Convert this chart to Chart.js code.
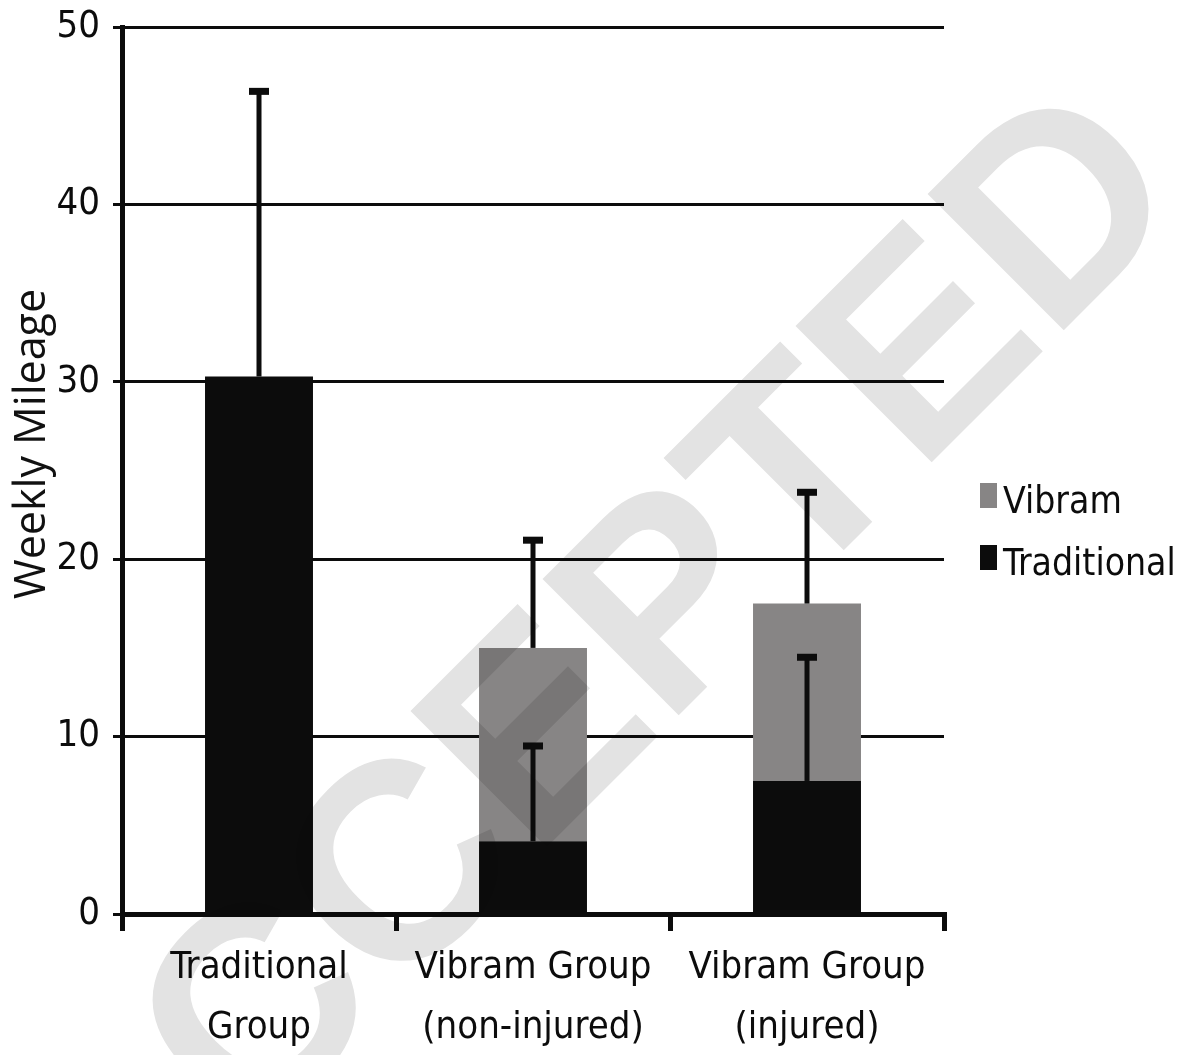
<!DOCTYPE html>
<html>
<head>
<title>Weekly Mileage</title>
<script src="https://cdn.jsdelivr.net/npm/chart.js"></script>
<style>
  html, body { margin: 0; padding: 0; background: #fff; }
  .chart-container { position: relative; width: 1190px; height: 1055px; }
</style>
</head>
<body>
<div class="chart-container"><canvas id="mileageChart"></canvas></div>
<script>
// data
const groups = [['Traditional', 'Group'], ['Vibram Group', '(non-injured)'], ['Vibram Group', '(injured)']];
const traditionalMiles = [30.3, 4.1, 7.5];
const traditionalSD = [16.1, 5.4, 7.0];
const vibramMiles = [null, 10.9, 10.0];
const vibramSD = [null, 6.1, 6.3];
const yMin = 0, yMax = 50, yStep = 10;

const narrowFont = "'Liberation Sans Narrow', 'DejaVu Sans Condensed', sans-serif";
const BLACK = '#0c0c0c';
const GREY = '#878585';

// error bars on top of each stacked segment
const errorBars = {
    id: 'errorBars',
    afterDatasetsDraw(chart) {
        const ctx = chart.ctx;
        const y = chart.scales.y;
        const sds = [traditionalSD, vibramSD];
        ctx.save();
        ctx.fillStyle = BLACK;
        sds.forEach((sd, di) => {
            chart.getDatasetMeta(di).data.forEach((bar, i) => {
                if (sd[i] == null) return;
                let total = traditionalMiles[i];
                if (di === 1) total += vibramMiles[i];
                const base = y.getPixelForValue(total);
                const end = y.getPixelForValue(total + sd[i]);
                ctx.fillRect(bar.x - 2.5, end, 5, base - end);
                ctx.fillRect(bar.x - 10, end - 3, 20, 7);
            });
        });
        ctx.restore();
    }
};

// legend on the right, Vibram above Traditional
const sideLegend = {
    id: 'sideLegend',
    afterDraw(chart) {
        const ctx = chart.ctx;
        const items = [['Vibram', GREY, 483], ['Traditional', BLACK, 545]];
        ctx.save();
        ctx.font = '37px ' + narrowFont;
        ctx.textBaseline = 'alphabetic';
        ctx.textAlign = 'left';
        items.forEach(([label, color, top]) => {
            ctx.fillStyle = color;
            ctx.fillRect(980, top, 17, 25);
            ctx.fillStyle = BLACK;
            ctx.fillText(label, 1003, top + 30);
        });
        ctx.restore();
    }
};

// y axis title
const yTitle = {
    id: 'yTitle',
    afterDraw(chart) {
        const ctx = chart.ctx;
        ctx.save();
        ctx.translate(33, 444);
        ctx.rotate(-Math.PI / 2);
        ctx.font = "43px 'Open Sans', sans-serif";
        ctx.fillStyle = '#111';
        ctx.textAlign = 'center';
        ctx.textBaseline = 'middle';
        ctx.fillText('Weekly Mileage', 0, 0);
        ctx.restore();
    }
};

// diagonal ACCEPTED stamp over the figure
const watermark = {
    id: 'watermark',
    afterDraw(chart) {
        const ctx = chart.ctx;
        ctx.save();
        ctx.globalCompositeOperation = 'multiply';
        ctx.fillStyle = '#e3e3e3';
        ctx.font = "bold 280px 'Liberation Sans', Arial, sans-serif";
        ctx.translate(649, 745);
        ctx.rotate(-Math.PI / 4);
        ctx.textAlign = 'center';
        ctx.textBaseline = 'alphabetic';
        ctx.fillText('ACCEPTED', 0, 0);
        ctx.restore();
    }
};

const ctx = document.getElementById('mileageChart').getContext('2d');
new Chart(ctx, {
    type: 'bar',
    data: {
        labels: groups,
        datasets: [
            {
                label: 'Traditional',
                data: traditionalMiles,
                backgroundColor: BLACK,
                borderWidth: 0,
                categoryPercentage: 1,
                barPercentage: 0.394
            },
            {
                label: 'Vibram',
                data: vibramMiles,
                backgroundColor: GREY,
                borderWidth: 0,
                categoryPercentage: 1,
                barPercentage: 0.394
            }
        ]
    },
    options: {
        responsive: true,
        maintainAspectRatio: false,
        animation: false,
        layout: { padding: { top: 27, left: 0, right: 246, bottom: 0 } },
        plugins: {
            legend: { display: false },
            tooltip: { enabled: false }
        },
        scales: {
            x: {
                stacked: true,
                afterFit: s => { s.height = 141; s.paddingLeft = 0; s.paddingRight = 0; },
                border: { display: true, color: BLACK, width: 5 },
                grid: {
                    offset: true,
                    drawOnChartArea: false,
                    drawTicks: true,
                    tickLength: 17,
                    color: BLACK,
                    lineWidth: 5
                },
                ticks: {
                    color: BLACK,
                    padding: 7,
                    autoSkip: false,
                    maxRotation: 0,
                    font: { family: narrowFont, size: 38, lineHeight: 1.58 }
                }
            },
            y: {
                stacked: true,
                min: yMin,
                max: yMax,
                afterFit: s => { s.width = 122; s.paddingTop = 0; s.paddingBottom = 0; },
                border: { display: true, color: BLACK, width: 5 },
                grid: {
                    color: BLACK,
                    lineWidth: 3,
                    drawTicks: true,
                    tickLength: 9
                },
                ticks: {
                    stepSize: yStep,
                    color: BLACK,
                    padding: 13,
                    font: { family: narrowFont, size: 38 }
                }
            }
        }
    },
    plugins: [errorBars, yTitle, sideLegend, watermark]
});
</script>
</body>
</html>
